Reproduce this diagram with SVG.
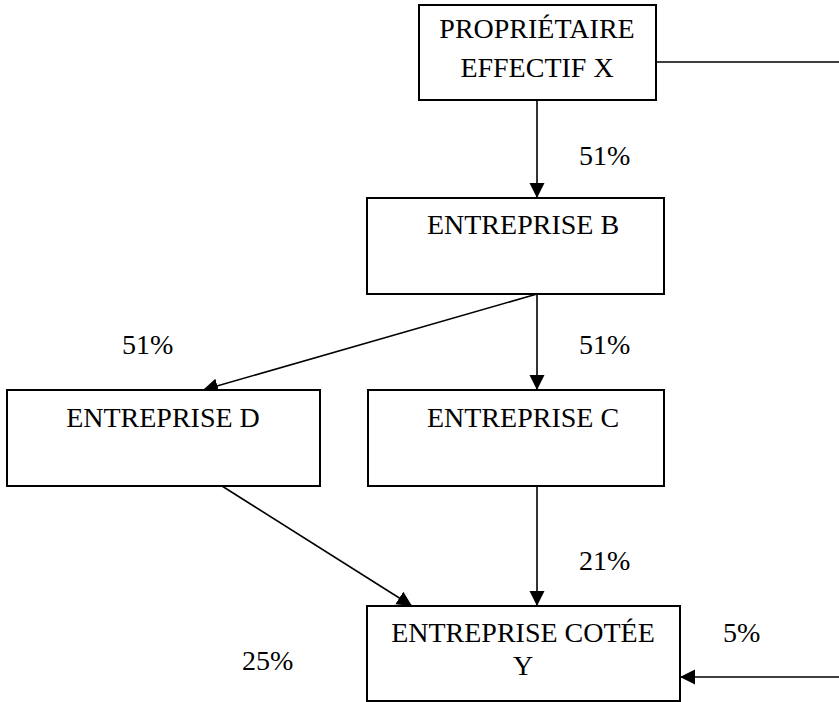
<svg xmlns="http://www.w3.org/2000/svg" width="839" height="702" viewBox="0 0 839 702">
<style>
.box{fill:#fff;stroke:#000;stroke-width:2}
.t{font-family:'Liberation Serif','DejaVu Serif',serif;font-size:28px;fill:#000}
.m{text-anchor:middle}
.c{stroke:#000;stroke-width:1.6;fill:none}
</style>
<defs>
<marker id="ah" markerWidth="16" markerHeight="16" refX="15" refY="7.5" orient="auto" markerUnits="userSpaceOnUse">
<path d="M0,0 L15,7.5 L0,15 Z" fill="#000"/>
</marker>
</defs>
<rect width="839" height="702" fill="#fff"/>
<g id="connectors">
<line class="c" x1="656" y1="62" x2="839" y2="62"/>
<line class="c" x1="537" y1="100" x2="537" y2="198" marker-end="url(#ah)"/>
<line class="c" x1="537" y1="294" x2="203" y2="390" marker-end="url(#ah)"/>
<line class="c" x1="537" y1="294" x2="537" y2="390" marker-end="url(#ah)"/>
<line class="c" x1="537" y1="486" x2="537" y2="606" marker-end="url(#ah)"/>
<line class="c" x1="222" y1="486" x2="412" y2="606" marker-end="url(#ah)"/>
<line class="c" x1="839" y1="677" x2="680" y2="677" marker-end="url(#ah)"/>
</g>
<g id="labels">
<text class="t" x="579" y="165">51%</text>
<text class="t" x="122" y="354">51%</text>
<text class="t" x="579" y="354">51%</text>
<text class="t" x="579" y="570">21%</text>
<text class="t" x="242" y="670">25%</text>
<text class="t" x="723" y="642">5%</text>
</g>
<g id="nodeX">
<rect class="box" x="419" y="5" width="237" height="95"/>
<text class="t m" x="537" y="38">PROPRIÉTAIRE</text>
<text class="t m" x="537" y="77">EFFECTIF X</text>
</g>
<g id="nodeB">
<rect class="box" x="367" y="198" width="297" height="96"/>
<text class="t m" x="523" y="234">ENTREPRISE B</text>
</g>
<g id="nodeD">
<rect class="box" x="7" y="390" width="313" height="96"/>
<text class="t m" x="163" y="427">ENTREPRISE D</text>
</g>
<g id="nodeC">
<rect class="box" x="368" y="390" width="296" height="96"/>
<text class="t m" x="523" y="427">ENTREPRISE C</text>
</g>
<g id="nodeY">
<rect class="box" x="367" y="606" width="313" height="95"/>
<text class="t m" x="523" y="642">ENTREPRISE COTÉE</text>
<text class="t m" x="523" y="675">Y</text>
</g>
</svg>
